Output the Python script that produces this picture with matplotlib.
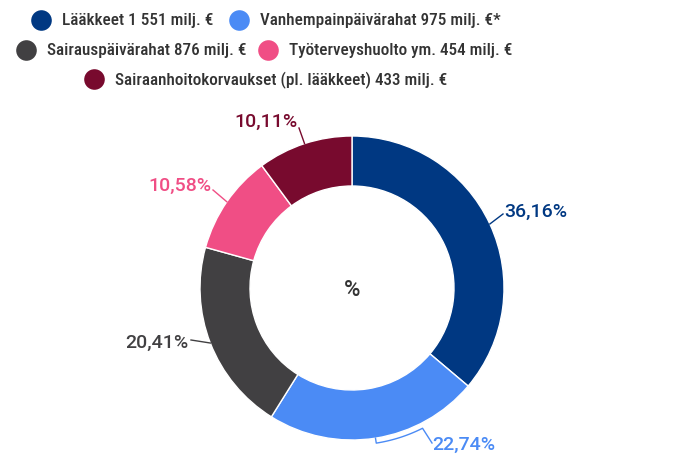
import numpy as np
import matplotlib
matplotlib.use('Agg')
import matplotlib.pyplot as plt
from matplotlib import font_manager

plt.rcParams['font.family'] = ['Roboto', 'DejaVu Sans']

# data
names = ['Lääkkeet', 'Vanhempainpäivärahat', 'Sairauspäivärahat',
         'Työterveyshuolto ym.', 'Sairaanhoitokorvaukset (pl. lääkkeet)']
amounts = ['1 551', '975', '876', '454', '433']
suffix = ['', '*', '', '', '']
pct = [36.16, 22.74, 20.41, 10.58, 10.11]
colors = ['#003882', '#4B8BF5', '#414042', '#F04E85', '#780A2E']

# legend font: a narrow face if there is one
leg_family, leg_size = ['Roboto', 'DejaVu Sans'], 9.7
for fam in ['Roboto Condensed', 'Liberation Sans Narrow']:
    try:
        font_manager.findfont(font_manager.FontProperties(family=fam),
                              fallback_to_default=False)
        leg_family, leg_size = [fam, 'DejaVu Sans'], 12.3
        break
    except ValueError:
        pass

W, H = 677, 459
fig = plt.figure(figsize=(W / 100, H / 100), dpi=100)
ax = fig.add_axes([0, 0, 1, 1])

def py(y):
    # pixel row -> data y
    return H - y

cx, cy = 352, py(288)
R, w = 152, 50
ax.pie(pct, colors=colors, startangle=90, counterclock=False,
       center=(cx, cy), radius=R, frame=True,
       wedgeprops=dict(width=w, edgecolor='white', linewidth=1))
ax.set_xlim(0, W)
ax.set_ylim(0, H)
ax.set_aspect('equal')
ax.axis('off')

ax.text(cx, py(290), '%', ha='center', va='center', fontsize=16,
        color='#333333', fontweight='medium')

# legend
leg_pos = [(41, 20), (239, 20), (26, 50), (268, 50), (94, 79)]
for i, (mx, my) in enumerate(leg_pos):
    ax.scatter([mx], [py(my)], s=220, color=colors[i], zorder=5, lw=0)
    ax.text(mx + 21, py(my + 1), f'{names[i]} {amounts[i]} milj. €{suffix[i]}',
            ha='left', va='center', fontsize=leg_size, color='#333333',
            fontweight='medium', family=leg_family)

# data labels with leader lines
def fmt(v):
    return f'{v:.2f}'.replace('.', ',') + '%'

mids = []
start = 90.0
for v in pct:
    ang = 360 * v / 100
    mids.append(np.deg2rad(start - ang / 2))
    start -= ang

def edge(a, r=R):
    return cx + r * np.cos(a), cy + r * np.sin(a)

lab_pos = [(504, 212, 'left'), (432, 445, 'left'), (189, 343, 'right'),
           (212, 186, 'right'), (298, 122, 'right')]
elbow = [(503, 214), None, (191, 340), (213, 190), (299, 128)]
for i, (lx, ly, ha) in enumerate(lab_pos):
    x0, y0 = edge(mids[i])
    if elbow[i] is not None:
        ex, ey = elbow[i]
        ax.plot([x0, ex], [y0, py(ey)], color=colors[i], lw=1)
    else:
        t = np.linspace(mids[i], np.deg2rad(-63.3), 40)
        xs = [x0] + list(cx + 157 * np.cos(t)) + [lx]
        ys = [y0] + list(cy + 157 * np.sin(t)) + [py(443)]
        ax.plot(xs, ys, color=colors[i], lw=1)
    ax.text(lx, py(ly), fmt(pct[i]), ha=ha, va='center', fontsize=14,
            color=colors[i], fontweight='medium')

fig.savefig('out.png', dpi=100)
